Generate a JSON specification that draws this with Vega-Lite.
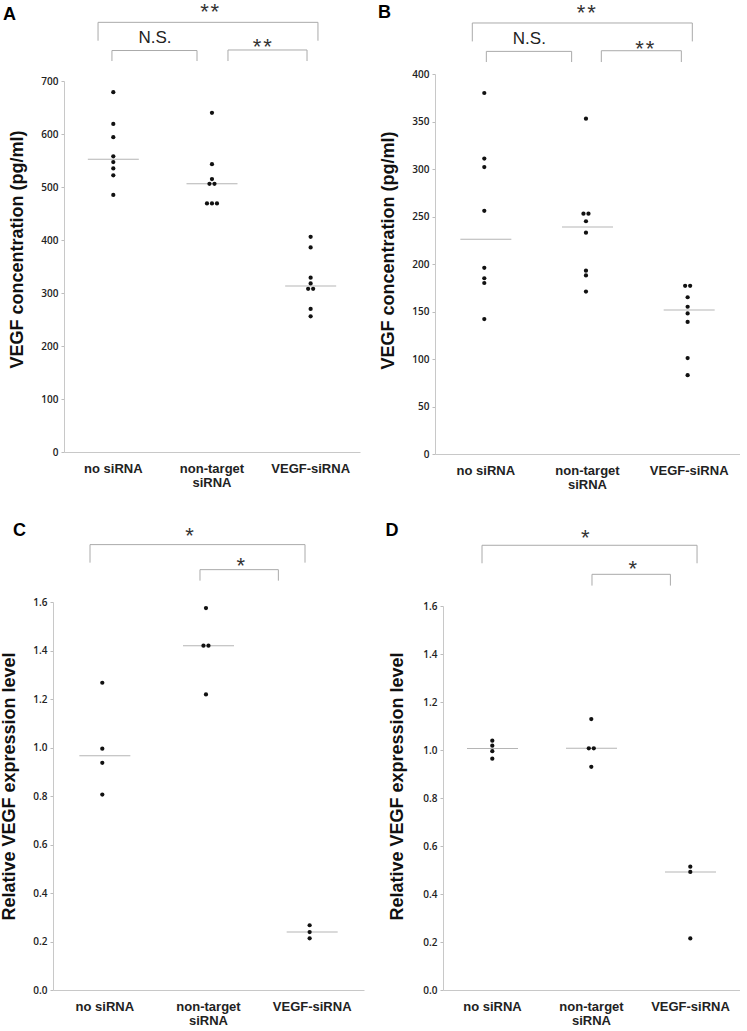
{
  "$schema": "https://vega.github.io/schema/vega-lite/v6.json",
  "background": "white",
  "padding": {"left": 0, "top": 1, "right": 0, "bottom": 0},
  "config": {
    "view": {"stroke": null},
    "font": "Liberation Sans",
    "axis": {"grid": false}
  },
  "datasets": {
    "points": [
      {"panel": "A", "group": "no siRNA", "value": 679},
      {"panel": "A", "group": "no siRNA", "value": 619},
      {"panel": "A", "group": "no siRNA", "value": 594},
      {"panel": "A", "group": "no siRNA", "value": 558},
      {"panel": "A", "group": "no siRNA", "value": 547},
      {"panel": "A", "group": "no siRNA", "value": 535},
      {"panel": "A", "group": "no siRNA", "value": 522},
      {"panel": "A", "group": "no siRNA", "value": 485},
      {"panel": "A", "group": "non-target siRNA", "value": 640},
      {"panel": "A", "group": "non-target siRNA", "value": 543},
      {"panel": "A", "group": "non-target siRNA", "value": 515},
      {"panel": "A", "group": "non-target siRNA", "value": 506},
      {"panel": "A", "group": "non-target siRNA", "value": 506},
      {"panel": "A", "group": "non-target siRNA", "value": 469},
      {"panel": "A", "group": "non-target siRNA", "value": 469},
      {"panel": "A", "group": "non-target siRNA", "value": 469},
      {"panel": "A", "group": "VEGF-siRNA", "value": 406},
      {"panel": "A", "group": "VEGF-siRNA", "value": 386},
      {"panel": "A", "group": "VEGF-siRNA", "value": 329},
      {"panel": "A", "group": "VEGF-siRNA", "value": 318},
      {"panel": "A", "group": "VEGF-siRNA", "value": 308},
      {"panel": "A", "group": "VEGF-siRNA", "value": 308},
      {"panel": "A", "group": "VEGF-siRNA", "value": 270},
      {"panel": "A", "group": "VEGF-siRNA", "value": 256},
      {"panel": "B", "group": "no siRNA", "value": 380},
      {"panel": "B", "group": "no siRNA", "value": 311},
      {"panel": "B", "group": "no siRNA", "value": 302},
      {"panel": "B", "group": "no siRNA", "value": 256},
      {"panel": "B", "group": "no siRNA", "value": 196},
      {"panel": "B", "group": "no siRNA", "value": 185},
      {"panel": "B", "group": "no siRNA", "value": 180},
      {"panel": "B", "group": "no siRNA", "value": 142},
      {"panel": "B", "group": "non-target siRNA", "value": 353},
      {"panel": "B", "group": "non-target siRNA", "value": 253},
      {"panel": "B", "group": "non-target siRNA", "value": 253},
      {"panel": "B", "group": "non-target siRNA", "value": 245},
      {"panel": "B", "group": "non-target siRNA", "value": 233},
      {"panel": "B", "group": "non-target siRNA", "value": 193},
      {"panel": "B", "group": "non-target siRNA", "value": 188},
      {"panel": "B", "group": "non-target siRNA", "value": 171},
      {"panel": "B", "group": "VEGF-siRNA", "value": 177},
      {"panel": "B", "group": "VEGF-siRNA", "value": 177},
      {"panel": "B", "group": "VEGF-siRNA", "value": 165},
      {"panel": "B", "group": "VEGF-siRNA", "value": 155},
      {"panel": "B", "group": "VEGF-siRNA", "value": 148},
      {"panel": "B", "group": "VEGF-siRNA", "value": 139},
      {"panel": "B", "group": "VEGF-siRNA", "value": 101},
      {"panel": "B", "group": "VEGF-siRNA", "value": 83},
      {"panel": "C", "group": "no siRNA", "value": 1.267},
      {"panel": "C", "group": "no siRNA", "value": 0.995},
      {"panel": "C", "group": "no siRNA", "value": 0.937},
      {"panel": "C", "group": "no siRNA", "value": 0.806},
      {"panel": "C", "group": "non-target siRNA", "value": 1.575},
      {"panel": "C", "group": "non-target siRNA", "value": 1.42},
      {"panel": "C", "group": "non-target siRNA", "value": 1.42},
      {"panel": "C", "group": "non-target siRNA", "value": 1.219},
      {"panel": "C", "group": "VEGF-siRNA", "value": 0.267},
      {"panel": "C", "group": "VEGF-siRNA", "value": 0.239},
      {"panel": "C", "group": "VEGF-siRNA", "value": 0.213},
      {"panel": "D", "group": "no siRNA", "value": 1.039},
      {"panel": "D", "group": "no siRNA", "value": 1.018},
      {"panel": "D", "group": "no siRNA", "value": 0.995},
      {"panel": "D", "group": "no siRNA", "value": 0.964},
      {"panel": "D", "group": "non-target siRNA", "value": 1.129},
      {"panel": "D", "group": "non-target siRNA", "value": 1.007},
      {"panel": "D", "group": "non-target siRNA", "value": 1.007},
      {"panel": "D", "group": "non-target siRNA", "value": 0.93},
      {"panel": "D", "group": "VEGF-siRNA", "value": 0.514},
      {"panel": "D", "group": "VEGF-siRNA", "value": 0.492},
      {"panel": "D", "group": "VEGF-siRNA", "value": 0.215}
    ],
    "brackets": [
      {"panel": "A", "x1": 0.345, "x2": 2.574, "y": 810.7, "yEnd": 776},
      {"panel": "A", "x1": 0.486, "x2": 1.348, "y": 757.5, "yEnd": 737.7},
      {"panel": "A", "x1": 1.662, "x2": 2.463, "y": 758.5, "yEnd": 737.7},
      {"panel": "B", "x1": 0.367, "x2": 2.531, "y": 453.7, "yEnd": 434.3},
      {"panel": "B", "x1": 0.505, "x2": 1.344, "y": 423.8, "yEnd": 412.6},
      {"panel": "B", "x1": 1.636, "x2": 2.423, "y": 424.5, "yEnd": 412.6},
      {"panel": "C", "x1": 0.357, "x2": 2.431, "y": 1.8366, "yEnd": 1.7623},
      {"panel": "C", "x1": 1.418, "x2": 2.174, "y": 1.7334, "yEnd": 1.688},
      {"panel": "D", "x1": 0.394, "x2": 2.566, "y": 1.853, "yEnd": 1.778},
      {"panel": "D", "x1": 1.505, "x2": 2.297, "y": 1.732, "yEnd": 1.685}
    ],
    "labels": [
      {"panel": "A", "kind": "star", "x": 1.476, "y": 839, "text": "*\u200a*"},
      {"panel": "A", "kind": "ns", "x": 0.922, "y": 780.5, "text": "N.S."},
      {"panel": "A", "kind": "star", "x": 2.01, "y": 774, "text": "*\u200a*"},
      {"panel": "A", "kind": "letter", "x": -0.618, "y": 816, "text": "A"},
      {"panel": "B", "kind": "star", "x": 1.488, "y": 469.5, "text": "*\u200a*"},
      {"panel": "B", "kind": "ns", "x": 0.928, "y": 436.9, "text": "N.S."},
      {"panel": "B", "kind": "star", "x": 2.063, "y": 431.6, "text": "*\u200a*"},
      {"panel": "B", "kind": "letter", "x": -0.561, "y": 459, "text": "B"},
      {"panel": "C", "kind": "star", "x": 1.316, "y": 1.8915, "text": "*"},
      {"panel": "C", "kind": "star", "x": 1.811, "y": 1.7676, "text": "*"},
      {"panel": "C", "kind": "letter", "x": -0.386, "y": 1.872, "text": "C"},
      {"panel": "D", "kind": "star", "x": 1.438, "y": 1.905, "text": "*"},
      {"panel": "D", "kind": "star", "x": 1.916, "y": 1.774, "text": "*"},
      {"panel": "D", "kind": "letter", "x": -0.582, "y": 1.892, "text": "D"}
    ]
  },
  "spacing": 30,
  "vconcat": [
    {
      "spacing": 17,
      "hconcat": [
        {
          "width": 296, "height": 371,
          "resolve": {"scale": {"x": "independent"}},
          "layer": [
            {
              "data": {"name": "points"},
              "transform": [{"filter": "datum.panel === 'A'"}],
              "mark": {"type": "tick", "orient": "horizontal", "size": 51, "thickness": 1, "color": "#b5b5b5"},
              "encoding": {
                "x": {"field": "group", "type": "nominal", "scale": {"type": "band", "domain": ["no siRNA", "non-target siRNA", "VEGF-siRNA"], "paddingInner": 0, "paddingOuter": 0}, "axis": {"title": null, "ticks": false, "labelAngle": 0, "labelPadding": 10, "labelFontSize": 13, "labelFontWeight": "bold", "labelColor": "#222", "labelLineHeight": 14, "domainColor": "#c8c8c8", "labelExpr": "datum.value === 'non-target siRNA' ? ['non-target', 'siRNA'] : datum.value"}},
                "y": {"aggregate": "median", "field": "value", "type": "quantitative", "scale": {"domain": [0, 700], "nice": false}, "axis": {"title": "VEGF concentration (pg/ml)", "titleFontSize": 18, "titleFontWeight": "bold", "titleColor": "#111", "titlePadding": 14, "titleY": 168, "values": [0, 50, 100, 150, 200, 250, 300, 350, 400, 450, 500, 550, 600, 650, 700], "labelExpr": "datum.value % 100 === 0 ? datum.label : ''", "labelFont": "Open Sans", "labelFontWeight": 600, "labelFontSize": 10, "labelColor": "#222", "tickSize": 3, "tickColor": "#bdbdbd", "domainColor": "#c8c8c8", "labelPadding": 3}}
              }
            },
            {
              "data": {"name": "points"},
              "transform": [
                {"filter": "datum.panel === 'A'"},
                {"window": [{"op": "row_number", "as": "k"}], "groupby": ["group", "value"]},
                {"joinaggregate": [{"op": "count", "as": "n"}], "groupby": ["group", "value"]},
                {"calculate": "datum.k - (datum.n + 1) / 2", "as": "dodge"}
              ],
              "mark": {"type": "circle", "size": 18, "color": "#111", "opacity": 1},
              "encoding": {
                "x": {"field": "group", "type": "nominal", "scale": {"type": "band", "domain": ["no siRNA", "non-target siRNA", "VEGF-siRNA"], "paddingInner": 0, "paddingOuter": 0}, "axis": null},
                "xOffset": {"field": "dodge", "type": "quantitative", "scale": {"domain": [-1, 1], "range": [44.3, 54.3]}},
                "y": {"field": "value", "type": "quantitative", "scale": {"domain": [0, 700], "nice": false}}
              }
            },
            {
              "data": {"name": "brackets"},
              "transform": [{"filter": "datum.panel === 'A'"}],
              "mark": {"type": "rule", "color": "#aaaaaa", "strokeWidth": 1},
              "encoding": {
                "x": {"field": "x1", "type": "quantitative", "scale": {"domain": [0, 3]}, "axis": null},
                "x2": {"field": "x2"},
                "y": {"field": "y", "type": "quantitative", "scale": {"domain": [0, 700], "nice": false}}
              }
            },
            {
              "data": {"name": "brackets"},
              "transform": [{"filter": "datum.panel === 'A'"}],
              "mark": {"type": "rule", "color": "#aaaaaa", "strokeWidth": 1},
              "encoding": {
                "x": {"field": "x1", "type": "quantitative", "scale": {"domain": [0, 3]}, "axis": null},
                "y": {"field": "y", "type": "quantitative", "scale": {"domain": [0, 700], "nice": false}},
                "y2": {"field": "yEnd"}
              }
            },
            {
              "data": {"name": "brackets"},
              "transform": [{"filter": "datum.panel === 'A'"}],
              "mark": {"type": "rule", "color": "#aaaaaa", "strokeWidth": 1},
              "encoding": {
                "x": {"field": "x2", "type": "quantitative", "scale": {"domain": [0, 3]}, "axis": null},
                "y": {"field": "y", "type": "quantitative", "scale": {"domain": [0, 700], "nice": false}},
                "y2": {"field": "yEnd"}
              }
            },
            {
              "data": {"name": "labels"},
              "transform": [{"filter": "datum.panel === 'A' && datum.kind === 'ns'"}],
              "mark": {"type": "text", "fontSize": 17, "color": "#222", "baseline": "middle", "align": "center"},
              "encoding": {
                "x": {"field": "x", "type": "quantitative", "scale": {"domain": [0, 3]}, "axis": null},
                "y": {"field": "y", "type": "quantitative", "scale": {"domain": [0, 700], "nice": false}},
                "text": {"field": "text"}
              }
            },
            {
              "data": {"name": "labels"},
              "transform": [{"filter": "datum.panel === 'A' && datum.kind === 'star'"}],
              "mark": {"type": "text", "fontSize": 22, "color": "#333", "baseline": "middle", "align": "center", "dy": 5},
              "encoding": {
                "x": {"field": "x", "type": "quantitative", "scale": {"domain": [0, 3]}, "axis": null},
                "y": {"field": "y", "type": "quantitative", "scale": {"domain": [0, 700], "nice": false}},
                "text": {"field": "text"}
              }
            },
            {
              "data": {"name": "labels"},
              "transform": [{"filter": "datum.panel === 'A' && datum.kind === 'letter'"}],
              "mark": {"type": "text", "fontSize": 18, "fontWeight": "bold", "color": "#000", "baseline": "alphabetic", "align": "left"},
              "encoding": {
                "x": {"field": "x", "type": "quantitative", "scale": {"domain": [0, 3]}, "axis": null},
                "y": {"field": "y", "type": "quantitative", "scale": {"domain": [0, 700], "nice": false}},
                "text": {"field": "text"}
              }
            }
          ]
        },
        {
          "width": 305, "height": 373,
          "resolve": {"scale": {"x": "independent"}},
          "layer": [
            {
              "data": {"name": "points"},
              "transform": [{"filter": "datum.panel === 'B'"}],
              "mark": {"type": "tick", "orient": "horizontal", "size": 51, "thickness": 1, "color": "#b5b5b5"},
              "encoding": {
                "x": {"field": "group", "type": "nominal", "scale": {"type": "band", "domain": ["no siRNA", "non-target siRNA", "VEGF-siRNA"], "paddingInner": 0, "paddingOuter": 0}, "axis": {"title": null, "ticks": false, "labelAngle": 0, "labelPadding": 10, "labelFontSize": 13, "labelFontWeight": "bold", "labelColor": "#222", "labelLineHeight": 14, "domainColor": "#c8c8c8", "labelExpr": "datum.value === 'non-target siRNA' ? ['non-target', 'siRNA'] : datum.value"}},
                "y": {"aggregate": "median", "field": "value", "type": "quantitative", "scale": {"domain": [0, 400], "nice": false, "range": [373, -7]}, "axis": {"title": "VEGF concentration (pg/ml)", "titleFontSize": 18, "titleFontWeight": "bold", "titleColor": "#111", "titlePadding": 14, "titleY": 169, "values": [0, 50, 100, 150, 200, 250, 300, 350, 400], "labelFont": "Open Sans", "labelFontWeight": 600, "labelFontSize": 10, "labelColor": "#222", "tickSize": 3, "tickColor": "#bdbdbd", "domainColor": "#c8c8c8", "labelPadding": 3}}
              }
            },
            {
              "data": {"name": "points"},
              "transform": [
                {"filter": "datum.panel === 'B'"},
                {"window": [{"op": "row_number", "as": "k"}], "groupby": ["group", "value"]},
                {"joinaggregate": [{"op": "count", "as": "n"}], "groupby": ["group", "value"]},
                {"calculate": "datum.k - (datum.n + 1) / 2", "as": "dodge"}
              ],
              "mark": {"type": "circle", "size": 18, "color": "#111", "opacity": 1},
              "encoding": {
                "x": {"field": "group", "type": "nominal", "scale": {"type": "band", "domain": ["no siRNA", "non-target siRNA", "VEGF-siRNA"], "paddingInner": 0, "paddingOuter": 0}, "axis": null},
                "xOffset": {"field": "dodge", "type": "quantitative", "scale": {"domain": [-1, 1], "range": [45.8, 55.8]}},
                "y": {"field": "value", "type": "quantitative", "scale": {"domain": [0, 400], "nice": false, "range": [373, -7]}}
              }
            },
            {
              "data": {"name": "brackets"},
              "transform": [{"filter": "datum.panel === 'B'"}],
              "mark": {"type": "rule", "color": "#aaaaaa", "strokeWidth": 1},
              "encoding": {
                "x": {"field": "x1", "type": "quantitative", "scale": {"domain": [0, 3]}, "axis": null},
                "x2": {"field": "x2"},
                "y": {"field": "y", "type": "quantitative", "scale": {"domain": [0, 400], "nice": false, "range": [373, -7]}}
              }
            },
            {
              "data": {"name": "brackets"},
              "transform": [{"filter": "datum.panel === 'B'"}],
              "mark": {"type": "rule", "color": "#aaaaaa", "strokeWidth": 1},
              "encoding": {
                "x": {"field": "x1", "type": "quantitative", "scale": {"domain": [0, 3]}, "axis": null},
                "y": {"field": "y", "type": "quantitative", "scale": {"domain": [0, 400], "nice": false, "range": [373, -7]}},
                "y2": {"field": "yEnd"}
              }
            },
            {
              "data": {"name": "brackets"},
              "transform": [{"filter": "datum.panel === 'B'"}],
              "mark": {"type": "rule", "color": "#aaaaaa", "strokeWidth": 1},
              "encoding": {
                "x": {"field": "x2", "type": "quantitative", "scale": {"domain": [0, 3]}, "axis": null},
                "y": {"field": "y", "type": "quantitative", "scale": {"domain": [0, 400], "nice": false, "range": [373, -7]}},
                "y2": {"field": "yEnd"}
              }
            },
            {
              "data": {"name": "labels"},
              "transform": [{"filter": "datum.panel === 'B' && datum.kind === 'ns'"}],
              "mark": {"type": "text", "fontSize": 17, "color": "#222", "baseline": "middle", "align": "center"},
              "encoding": {
                "x": {"field": "x", "type": "quantitative", "scale": {"domain": [0, 3]}, "axis": null},
                "y": {"field": "y", "type": "quantitative", "scale": {"domain": [0, 400], "nice": false, "range": [373, -7]}},
                "text": {"field": "text"}
              }
            },
            {
              "data": {"name": "labels"},
              "transform": [{"filter": "datum.panel === 'B' && datum.kind === 'star'"}],
              "mark": {"type": "text", "fontSize": 22, "color": "#333", "baseline": "middle", "align": "center", "dy": 5},
              "encoding": {
                "x": {"field": "x", "type": "quantitative", "scale": {"domain": [0, 3]}, "axis": null},
                "y": {"field": "y", "type": "quantitative", "scale": {"domain": [0, 400], "nice": false, "range": [373, -7]}},
                "text": {"field": "text"}
              }
            },
            {
              "data": {"name": "labels"},
              "transform": [{"filter": "datum.panel === 'B' && datum.kind === 'letter'"}],
              "mark": {"type": "text", "fontSize": 18, "fontWeight": "bold", "color": "#000", "baseline": "alphabetic", "align": "left"},
              "encoding": {
                "x": {"field": "x", "type": "quantitative", "scale": {"domain": [0, 3]}, "axis": null},
                "y": {"field": "y", "type": "quantitative", "scale": {"domain": [0, 400], "nice": false, "range": [373, -7]}},
                "text": {"field": "text"}
              }
            }
          ]
        }
      ]
    },
    {
      "spacing": 10,
      "hconcat": [
        {
          "width": 300, "height": 388,
          "resolve": {"scale": {"x": "independent"}},
          "layer": [
            {
              "data": {"name": "points"},
              "transform": [{"filter": "datum.panel === 'C'"}],
              "mark": {"type": "tick", "orient": "horizontal", "size": 51, "thickness": 1, "color": "#b5b5b5"},
              "encoding": {
                "x": {"field": "group", "type": "nominal", "scale": {"type": "band", "domain": ["no siRNA", "non-target siRNA", "VEGF-siRNA"], "paddingInner": 0, "paddingOuter": 0, "range": [-11, 300]}, "axis": {"title": null, "ticks": false, "labelAngle": 0, "labelPadding": 10, "labelFontSize": 13, "labelFontWeight": "bold", "labelColor": "#222", "labelLineHeight": 14, "domainColor": "#c8c8c8", "labelExpr": "datum.value === 'non-target siRNA' ? ['non-target', 'siRNA'] : datum.value"}},
                "y": {"aggregate": "median", "field": "value", "type": "quantitative", "scale": {"domain": [0, 1.6], "nice": false}, "axis": {"title": "Relative VEGF expression level", "titleFontSize": 18, "titleFontWeight": "bold", "titleColor": "#111", "titlePadding": 14, "titleY": 184, "offset": 11, "values": [0, 0.1, 0.2, 0.3, 0.4, 0.5, 0.6, 0.7, 0.8, 0.9, 1.0, 1.1, 1.2, 1.3, 1.4, 1.5, 1.6], "labelExpr": "round(datum.value * 10) % 2 === 0 ? format(datum.value, '.1f') : ''", "labelFont": "Open Sans", "labelFontWeight": 600, "labelFontSize": 10, "labelColor": "#222", "tickSize": 3, "tickColor": "#bdbdbd", "domainColor": "#c8c8c8", "labelPadding": 3}}
              }
            },
            {
              "data": {"name": "points"},
              "transform": [
                {"filter": "datum.panel === 'C'"},
                {"window": [{"op": "row_number", "as": "k"}], "groupby": ["group", "value"]},
                {"joinaggregate": [{"op": "count", "as": "n"}], "groupby": ["group", "value"]},
                {"calculate": "datum.k - (datum.n + 1) / 2", "as": "dodge"}
              ],
              "mark": {"type": "circle", "size": 18, "color": "#111", "opacity": 1},
              "encoding": {
                "x": {"field": "group", "type": "nominal", "scale": {"type": "band", "domain": ["no siRNA", "non-target siRNA", "VEGF-siRNA"], "paddingInner": 0, "paddingOuter": 0, "range": [-11, 300]}, "axis": null},
                "xOffset": {"field": "dodge", "type": "quantitative", "scale": {"domain": [-1, 1], "range": [46.8, 56.8]}},
                "y": {"field": "value", "type": "quantitative", "scale": {"domain": [0, 1.6], "nice": false}}
              }
            },
            {
              "data": {"name": "brackets"},
              "transform": [{"filter": "datum.panel === 'C'"}],
              "mark": {"type": "rule", "color": "#aaaaaa", "strokeWidth": 1},
              "encoding": {
                "x": {"field": "x1", "type": "quantitative", "scale": {"domain": [0, 3], "range": [-11, 300]}, "axis": null},
                "x2": {"field": "x2"},
                "y": {"field": "y", "type": "quantitative", "scale": {"domain": [0, 1.6], "nice": false}}
              }
            },
            {
              "data": {"name": "brackets"},
              "transform": [{"filter": "datum.panel === 'C'"}],
              "mark": {"type": "rule", "color": "#aaaaaa", "strokeWidth": 1},
              "encoding": {
                "x": {"field": "x1", "type": "quantitative", "scale": {"domain": [0, 3], "range": [-11, 300]}, "axis": null},
                "y": {"field": "y", "type": "quantitative", "scale": {"domain": [0, 1.6], "nice": false}},
                "y2": {"field": "yEnd"}
              }
            },
            {
              "data": {"name": "brackets"},
              "transform": [{"filter": "datum.panel === 'C'"}],
              "mark": {"type": "rule", "color": "#aaaaaa", "strokeWidth": 1},
              "encoding": {
                "x": {"field": "x2", "type": "quantitative", "scale": {"domain": [0, 3], "range": [-11, 300]}, "axis": null},
                "y": {"field": "y", "type": "quantitative", "scale": {"domain": [0, 1.6], "nice": false}},
                "y2": {"field": "yEnd"}
              }
            },
            {
              "data": {"name": "labels"},
              "transform": [{"filter": "datum.panel === 'C' && datum.kind === 'star'"}],
              "mark": {"type": "text", "fontSize": 22, "color": "#333", "baseline": "middle", "align": "center", "dy": 5},
              "encoding": {
                "x": {"field": "x", "type": "quantitative", "scale": {"domain": [0, 3], "range": [-11, 300]}, "axis": null},
                "y": {"field": "y", "type": "quantitative", "scale": {"domain": [0, 1.6], "nice": false}},
                "text": {"field": "text"}
              }
            },
            {
              "data": {"name": "labels"},
              "transform": [{"filter": "datum.panel === 'C' && datum.kind === 'letter'"}],
              "mark": {"type": "text", "fontSize": 18, "fontWeight": "bold", "color": "#000", "baseline": "alphabetic", "align": "left"},
              "encoding": {
                "x": {"field": "x", "type": "quantitative", "scale": {"domain": [0, 3], "range": [-11, 300]}, "axis": null},
                "y": {"field": "y", "type": "quantitative", "scale": {"domain": [0, 1.6], "nice": false}},
                "text": {"field": "text"}
              }
            }
          ]
        },
        {
          "width": 297, "height": 388,
          "resolve": {"scale": {"x": "independent"}},
          "layer": [
            {
              "data": {"name": "points"},
              "transform": [{"filter": "datum.panel === 'D'"}],
              "mark": {"type": "tick", "orient": "horizontal", "size": 51, "thickness": 1, "color": "#b5b5b5"},
              "encoding": {
                "x": {"field": "group", "type": "nominal", "scale": {"type": "band", "domain": ["no siRNA", "non-target siRNA", "VEGF-siRNA"], "paddingInner": 0, "paddingOuter": 0}, "axis": {"title": null, "ticks": false, "labelAngle": 0, "labelPadding": 10, "labelFontSize": 13, "labelFontWeight": "bold", "labelColor": "#222", "labelLineHeight": 14, "domainColor": "#c8c8c8", "labelExpr": "datum.value === 'non-target siRNA' ? ['non-target', 'siRNA'] : datum.value"}},
                "y": {"aggregate": "median", "field": "value", "type": "quantitative", "scale": {"domain": [0, 1.6], "nice": false, "range": [388, 4]}, "axis": {"title": "Relative VEGF expression level", "titleFontSize": 18, "titleFontWeight": "bold", "titleColor": "#111", "titlePadding": 16, "titleY": 184, "values": [0, 0.1, 0.2, 0.3, 0.4, 0.5, 0.6, 0.7, 0.8, 0.9, 1.0, 1.1, 1.2, 1.3, 1.4, 1.5, 1.6], "labelExpr": "round(datum.value * 10) % 2 === 0 ? format(datum.value, '.1f') : ''", "labelFont": "Open Sans", "labelFontWeight": 600, "labelFontSize": 10, "labelColor": "#222", "tickSize": 3, "tickColor": "#bdbdbd", "domainColor": "#c8c8c8", "labelPadding": 3}}
              }
            },
            {
              "data": {"name": "points"},
              "transform": [
                {"filter": "datum.panel === 'D'"},
                {"window": [{"op": "row_number", "as": "k"}], "groupby": ["group", "value"]},
                {"joinaggregate": [{"op": "count", "as": "n"}], "groupby": ["group", "value"]},
                {"calculate": "datum.k - (datum.n + 1) / 2", "as": "dodge"}
              ],
              "mark": {"type": "circle", "size": 18, "color": "#111", "opacity": 1},
              "encoding": {
                "x": {"field": "group", "type": "nominal", "scale": {"type": "band", "domain": ["no siRNA", "non-target siRNA", "VEGF-siRNA"], "paddingInner": 0, "paddingOuter": 0}, "axis": null},
                "xOffset": {"field": "dodge", "type": "quantitative", "scale": {"domain": [-1, 1], "range": [44.5, 54.5]}},
                "y": {"field": "value", "type": "quantitative", "scale": {"domain": [0, 1.6], "nice": false, "range": [388, 4]}}
              }
            },
            {
              "data": {"name": "brackets"},
              "transform": [{"filter": "datum.panel === 'D'"}],
              "mark": {"type": "rule", "color": "#aaaaaa", "strokeWidth": 1},
              "encoding": {
                "x": {"field": "x1", "type": "quantitative", "scale": {"domain": [0, 3]}, "axis": null},
                "x2": {"field": "x2"},
                "y": {"field": "y", "type": "quantitative", "scale": {"domain": [0, 1.6], "nice": false, "range": [388, 4]}}
              }
            },
            {
              "data": {"name": "brackets"},
              "transform": [{"filter": "datum.panel === 'D'"}],
              "mark": {"type": "rule", "color": "#aaaaaa", "strokeWidth": 1},
              "encoding": {
                "x": {"field": "x1", "type": "quantitative", "scale": {"domain": [0, 3]}, "axis": null},
                "y": {"field": "y", "type": "quantitative", "scale": {"domain": [0, 1.6], "nice": false, "range": [388, 4]}},
                "y2": {"field": "yEnd"}
              }
            },
            {
              "data": {"name": "brackets"},
              "transform": [{"filter": "datum.panel === 'D'"}],
              "mark": {"type": "rule", "color": "#aaaaaa", "strokeWidth": 1},
              "encoding": {
                "x": {"field": "x2", "type": "quantitative", "scale": {"domain": [0, 3]}, "axis": null},
                "y": {"field": "y", "type": "quantitative", "scale": {"domain": [0, 1.6], "nice": false, "range": [388, 4]}},
                "y2": {"field": "yEnd"}
              }
            },
            {
              "data": {"name": "labels"},
              "transform": [{"filter": "datum.panel === 'D' && datum.kind === 'star'"}],
              "mark": {"type": "text", "fontSize": 22, "color": "#333", "baseline": "middle", "align": "center", "dy": 5},
              "encoding": {
                "x": {"field": "x", "type": "quantitative", "scale": {"domain": [0, 3]}, "axis": null},
                "y": {"field": "y", "type": "quantitative", "scale": {"domain": [0, 1.6], "nice": false, "range": [388, 4]}},
                "text": {"field": "text"}
              }
            },
            {
              "data": {"name": "labels"},
              "transform": [{"filter": "datum.panel === 'D' && datum.kind === 'letter'"}],
              "mark": {"type": "text", "fontSize": 18, "fontWeight": "bold", "color": "#000", "baseline": "alphabetic", "align": "left"},
              "encoding": {
                "x": {"field": "x", "type": "quantitative", "scale": {"domain": [0, 3]}, "axis": null},
                "y": {"field": "y", "type": "quantitative", "scale": {"domain": [0, 1.6], "nice": false, "range": [388, 4]}},
                "text": {"field": "text"}
              }
            }
          ]
        }
      ]
    }
  ]
}
